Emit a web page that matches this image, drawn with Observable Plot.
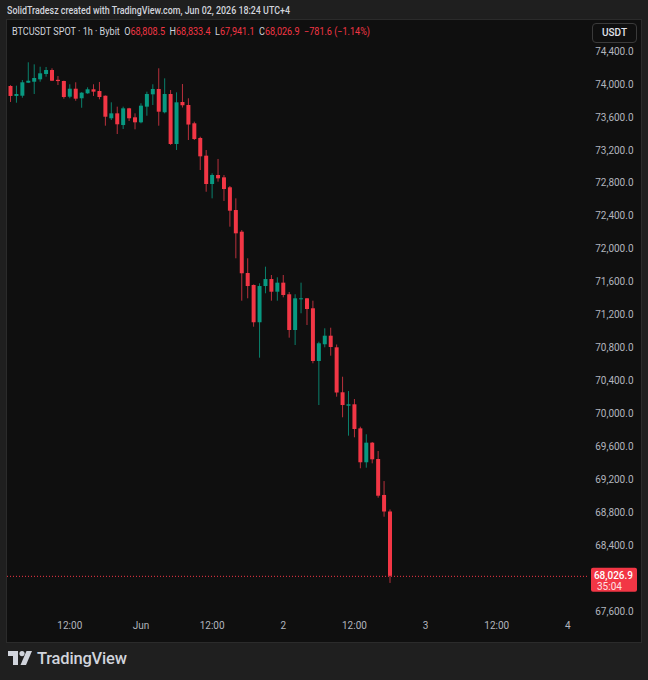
<!DOCTYPE html>
<html>
<head>
<meta charset="utf-8">
<script src="https://cdn.jsdelivr.net/npm/d3@7"></script>
<script src="https://cdn.jsdelivr.net/npm/@observablehq/plot@0.6"></script>
<style>
  html, body { margin: 0; padding: 0; background: #1f1f1f; }
  #wrap { position: relative; width: 648px; height: 680px; overflow: hidden; background: #1f1f1f; font-family: Roboto, "Noto Sans", sans-serif; }
  #hdr { position: absolute; left: 7px; top: 4px; font-size: 10.5px; font-weight: 500; color: #d1d4dc; white-space: nowrap; transform-origin: 0 50%; }
  #chart { position: absolute; left: 7px; top: 20px; width: 634px; height: 622px; }
  #chart svg { display: block; outline: 1px solid #2b2b2b; }
  #legend { position: absolute; left: 12px; top: 25px; font-size: 10.5px; color: #d1d4dc; white-space: nowrap; transform-origin: 0 50%; }
  #legend .v { color: #f23645; }
  #legend .g { margin-left: 5px; }
  #usdt { position: absolute; left: 592px; top: 23px; width: 43px; height: 18px; border: 1px solid #3a3a3a; border-radius: 4px; color: #e0e3eb; font-size: 10px; font-weight: 500; line-height: 18px; text-align: center; box-sizing: content-box; }
  #logo { position: absolute; left: 8px; top: 648px; height: 20px; display: flex; align-items: center; gap: 5px; color: #d1d4dc; font-size: 16.5px; font-weight: 500; letter-spacing: -0.2px; }
</style>
</head>
<body>
<div id="wrap">
  <div id="hdr">SolidTradesz created with TradingView.com, Jun 02, 2026 18:24 UTC+4</div>
  <div id="chart"></div>
  <div id="legend"></div>
  <div id="usdt">USDT</div>
  <div id="logo">
    <svg width="24" height="14" viewBox="0 0 24 14"><path d="M0 0H10V14H5V5H0Z" fill="#d1d4dc"/><circle cx="14" cy="2.6" r="2.6" fill="#d1d4dc"/><path d="M18.5 0H24L18 14H12.5Z" fill="#d1d4dc"/></svg>
    <span>TradingView</span>
  </div>
</div>
<script>
// ---- data (hourly candles, BTCUSDT, Bybit) ----
const symbolText = "BTCUSDT SPOT · 1h · Bybit";
const firstCandle = "2026-05-31T02:00:00Z"; // first visible hourly candle (chart local time)
const opens  = [73975,73854,73857,74015,74027,74056,74121,74169,74050,74036,73845,73942,73826,73886,73935,73914,73857,73583,73643,73501,73704,73595,73534,73724,73874,73939,73656,73878,73271,73781,73744,73522,73344,73129,72785,72894,72866,72745,72469,72206,71704,71559,71106,71546,71631,71477,71587,71446,71012,71385,71397,71276,70636,70839,70943,70802,70256,70093,70110,69818,69406,69644,69446,69009,68808.5];
const highs  = [73985,73979,74048,74263,74238,74209,74206,74190,74096,74040,73996,74020,73900,73959,73996,74024,73860,73777,73724,73724,73710,73643,73765,73906,73996,74190,74068,73926,73898,73999,73826,73542,73359,73198,72915,73089,72894,72761,72611,72226,71883,71565,71579,71781,71680,71652,71680,71474,71446,71587,71401,71368,70870,71033,71040,70836,70445,70271,70174,69838,69746,69652,69543,69178,68833.4];
const lows   = [73781,73772,73833,74011,73878,74027,74088,74035,73987,73821,73826,73796,73711,73880,73854,73813,73493,73562,73392,73453,73550,73449,73522,73614,73744,73493,73643,73259,73198,73714,73319,73319,72955,72691,72611,72813,72579,72267,71883,71368,71397,71052,70676,71458,71368,71368,71409,70919,70830,71215,71073,70608,70101,70802,70700,70202,69952,69729,69709,69333,69340,69393,68976,68745,67941.1];
const closes = [73854,73878,74020,74039,74072,74129,74169,74039,74035,73841,73942,73821,73894,73935,73906,73841,73602,73643,73510,73704,73583,73534,73736,73878,73939,73663,73878,73271,73777,73741,73507,73331,73121,72785,72894,72854,72724,72461,72186,71701,71546,71106,71546,71631,71477,71587,71437,71012,71397,71397,71267,70636,70851,70943,70806,70253,70101,70110,69810,69406,69644,69442,69000,68808,68026.9];
const lastChange = -781.6;
const lastChangePct = -1.14;
const countdown = "35:04";
const yTicks = [67600,68400,68800,69200,69600,70000,70400,70800,71200,71600,72000,72400,72800,73200,73600,74000,74400];
const xTickDates = ["2026-05-31T12:00:00Z","2026-06-01T00:00:00Z","2026-06-01T12:00:00Z","2026-06-02T00:00:00Z","2026-06-02T12:00:00Z","2026-06-03T00:00:00Z","2026-06-03T12:00:00Z","2026-06-04T00:00:00Z"];
const xTickLabels = ["12:00","Jun","12:00","2","12:00","3","12:00","4"];

// ---- build ----
const UP = "#089981", DOWN = "#f23645", UPW = "#0a806c", DOWNW = "#b8303c";
const t0 = new Date(firstCandle);
const candles = opens.map((o, i) => ({time: d3.utcHour.offset(t0, i), open: o, high: highs[i], low: lows[i], close: closes[i]}));
const lastC = candles[candles.length - 1];
const xTicks = xTickDates.map(s => new Date(s));
const labelOf = new Map(xTicks.map((d, i) => [+d, xTickLabels[i]]));
const fmt = d3.format(",.1f");
const isUp = d => d.close >= d.open;
const isDown = d => d.close < d.open;

const chart = Plot.plot({
  width: 634, height: 622,
  marginLeft: 0, marginRight: 53, marginTop: 0, marginBottom: 28,
  style: {background: "#0f0f0f", color: "#b2b5be", fontFamily: "Roboto, 'Noto Sans', sans-serif", fontSize: "10px", overflow: "visible"},
  x: {type: "utc", domain: [new Date("2026-05-31T02:00:00Z"), new Date("2026-06-04T00:00:00Z")], range: [3, 560.4]},
  y: {domain: [67600, 74400], range: [591, 31]},
  marks: [
    Plot.ruleY([lastC.close], {stroke: DOWN, strokeWidth: 1, strokeDasharray: "1,2"}),
    Plot.ruleX(candles, {filter: isUp, x: "time", y1: "low", y2: "high", stroke: UPW, strokeWidth: 1}),
    Plot.ruleX(candles, {filter: isDown, x: "time", y1: "low", y2: "high", stroke: DOWNW, strokeWidth: 1}),
    Plot.ruleX(candles, {filter: isUp, x: "time", y1: "open", y2: "close", stroke: UP, strokeWidth: 4}),
    Plot.ruleX(candles, {filter: isDown, x: "time", y1: "open", y2: "close", stroke: DOWN, strokeWidth: 4}),
    Plot.axisX(xTicks, {anchor: "bottom", tickSize: 0, tickPadding: 7, tickFormat: d => labelOf.get(+d), fill: "#b2b5be"}),
    Plot.axisY(yTicks, {anchor: "right", tickSize: 0, tickPadding: 0, textAnchor: "end", dx: 45, tickFormat: fmt, fill: "#b2b5be"})
  ]
});
document.getElementById("chart").appendChild(chart);

// last price label on the price scale
const yc = chart.scale("y").apply(lastC.close);
const g = d3.select(chart).append("g").attr("font-family", "Roboto, 'Noto Sans', sans-serif").attr("font-size", 10);
g.append("rect").attr("x", 584).attr("y", yc - 8).attr("width", 46).attr("height", 24).attr("rx", 2).attr("fill", DOWN);
g.append("text").attr("x", 626).attr("y", yc).attr("dy", "0.35em").attr("text-anchor", "end").attr("fill", "#ffffff").attr("font-weight", 500).text(fmt(lastC.close));
g.append("text").attr("x", 590).attr("y", yc + 11).attr("dy", "0.35em").attr("text-anchor", "start").attr("fill", "#ffe0e3").text(countdown);

// legend
const minus = s => s.replace("-", "\u2212");
const leg = document.getElementById("legend");
leg.innerHTML = `<span>${symbolText}</span>` +
  `<span class="g">O<span class="v">${fmt(lastC.open)}</span></span>` +
  `<span class="g">H<span class="v">${fmt(lastC.high)}</span></span>` +
  `<span class="g">L<span class="v">${fmt(lastC.low)}</span></span>` +
  `<span class="g">C<span class="v">${fmt(lastC.close)}</span></span>` +
  `<span class="g v">${minus(d3.format(".1f")(lastChange))} (${minus(d3.format(".2f")(lastChangePct))}%)</span>`;

// fit header/legend widths to the snapshot's condensed font
function fitWidth(el, target) {
  const w = el.getBoundingClientRect().width;
  if (w > 0) el.style.transform = `scaleX(${target / w})`;
}
fitWidth(document.getElementById("hdr"), 283);
fitWidth(leg, 358);
</script>
</body>
</html>
